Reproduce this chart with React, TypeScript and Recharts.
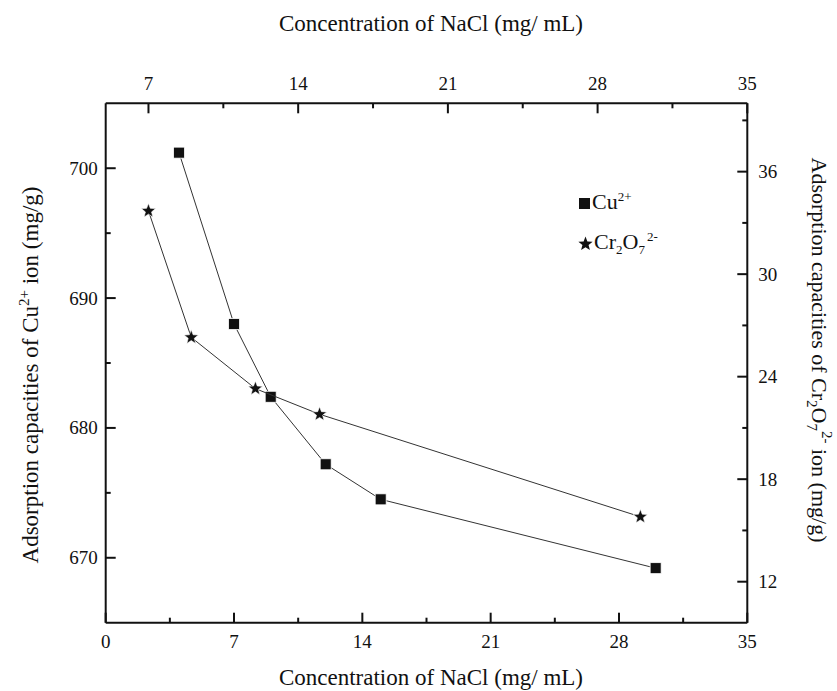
import React from 'react';
import { ScatterChart, Scatter, XAxis, YAxis, Legend } from 'recharts';

// Cu2+ series: bottom axis (NaCl, mg/mL) vs left axis (mg/g)
const cuNacl = [4, 7, 9, 12, 15, 30];
const cuCapacity = [701.2, 688.0, 682.4, 677.2, 674.5, 669.2];

// Cr2O7 2- series: top axis (NaCl, mg/mL) vs right axis (mg/g)
const crNacl = [7, 9, 12, 15, 30];
const crCapacity = [33.7, 26.3, 23.3, 21.8, 15.8];

const bottomMajor = [0, 7, 14, 21, 28, 35];
const bottomMinor = [3.5, 10.5, 17.5, 24.5, 31.5];
const topMajor = [7, 14, 21, 28, 35];
const topMinor = [10.5, 17.5, 24.5, 31.5];
const leftMajor = [670, 680, 690, 700];
const leftMinor = [675, 685, 695];
const rightMajor = [12, 18, 24, 30, 36];
const rightMinor = [15, 21, 27, 33, 39];

const cuData = cuNacl.map((x, i) => ({ x, y: cuCapacity[i] }));
const crData = crNacl.map((x, i) => ({ x, y: crCapacity[i] }));

const FONT = "'Liberation Serif', 'Times New Roman', 'DejaVu Serif', serif";
const TICK_FONT = 19;
const TITLE_FONT = 23;

type Side = 'top' | 'bottom' | 'left' | 'right';

const makeTick = (side: Side, majors: number[]) => (props: any) => {
  const { x, y, payload } = props;
  const v = payload.value;
  const major = majors.includes(v);
  const len = major ? 10 : 5;
  let line: [number, number, number, number];
  let label: React.ReactNode = null;
  if (side === 'bottom') {
    line = [x, y, x, y - len];
    if (major) label = <text x={x} y={y + 25} textAnchor="middle">{v}</text>;
  } else if (side === 'top') {
    line = [x, y, x, y + len];
    if (major) label = <text x={x} y={y - 13} textAnchor="middle">{v}</text>;
  } else if (side === 'left') {
    line = [x, y, x + len, y];
    if (major) label = <text x={x - 8} y={y + 6.5} textAnchor="end">{v}</text>;
  } else {
    line = [x, y, x - len, y];
    if (major) label = <text x={x + 11} y={y + 6.5} textAnchor="start">{v}</text>;
  }
  return (
    <g style={{ fontFamily: FONT, fontSize: TICK_FONT }} fill="#111">
      <line x1={line[0]} y1={line[1]} x2={line[2]} y2={line[3]} stroke="#111" strokeWidth={2} />
      {label}
    </g>
  );
};

const starPath = (cx: number, cy: number, ro: number, ri: number) => {
  const pts: string[] = [];
  for (let i = 0; i < 10; i++) {
    const r = i % 2 === 0 ? ro : ri;
    const a = -Math.PI / 2 + (i * Math.PI) / 5;
    pts.push(`${cx + r * Math.cos(a)},${cy + r * Math.sin(a)}`);
  }
  return pts.join(' ');
};

const SquareShape = (props: any) => {
  const { cx, cy } = props;
  return <rect x={cx - 5.5} y={cy - 5.5} width={11} height={11} fill="#111" stroke="#fff" strokeWidth={0.8} />;
};

const StarShape = (props: any) => {
  const { cx, cy } = props;
  return <polygon points={starPath(cx, cy, 7.5, 3.2)} fill="#111" stroke="#fff" strokeWidth={0.6} />;
};

const supStyle: React.CSSProperties = { fontSize: 13, verticalAlign: 'baseline', position: 'relative', top: -8 };
const subStyle: React.CSSProperties = { fontSize: 13, verticalAlign: 'baseline', position: 'relative', top: 5 };

const LegendBox = () => (
  <div style={{ fontFamily: FONT, fontSize: 22, color: '#111' }}>
    <div style={{ height: 40, lineHeight: '40px', display: 'flex', alignItems: 'center' }}>
      <svg width={13} height={13} style={{ marginRight: 1 }}>
        <rect x={1} y={1} width={11} height={11} fill="#111" />
      </svg>
      <span>
        Cu<sup style={supStyle}>2+</sup>
      </span>
    </div>
    <div style={{ height: 40, lineHeight: '40px', display: 'flex', alignItems: 'center' }}>
      <svg width={15} height={15} style={{ marginRight: 1 }}>
        <polygon points={starPath(7.5, 8, 7.5, 3.2)} fill="#111" />
      </svg>
      <span>
        Cr<sub style={subStyle}>2</sub>O<sub style={subStyle}>7</sub>
        <sup style={{ ...supStyle, marginLeft: 2 }}>2-</sup>
      </span>
    </div>
  </div>
);

export default function App() {
  const axisLine = { stroke: '#111', strokeWidth: 2 };
  return (
    <div style={{ position: 'absolute', left: 0, top: 0, width: 837, height: 691, background: '#fff' }}>
      <ScatterChart width={837} height={691} margin={{ top: 63.3, right: 29.7, bottom: 28.3, left: 45.7 }}>
        <XAxis
          xAxisId="bottom"
          dataKey="x"
          type="number"
          orientation="bottom"
          domain={[0, 35]}
          ticks={[...bottomMajor, ...bottomMinor]}
          height={40}
          axisLine={axisLine}
          tickLine={false}
          tickSize={0}
          tickMargin={0}
          interval={0}
          tick={makeTick('bottom', bottomMajor)}
        />
        <XAxis
          xAxisId="top"
          dataKey="x"
          type="number"
          orientation="top"
          domain={[5, 35]}
          ticks={[...topMajor, ...topMinor]}
          height={40}
          axisLine={axisLine}
          tickLine={false}
          tickSize={0}
          tickMargin={0}
          interval={0}
          tick={makeTick('top', topMajor)}
        />
        <YAxis
          yAxisId="left"
          dataKey="y"
          type="number"
          orientation="left"
          domain={[665, 705]}
          ticks={[...leftMajor, ...leftMinor]}
          width={60}
          axisLine={axisLine}
          tickLine={false}
          tickSize={0}
          tickMargin={0}
          interval={0}
          tick={makeTick('left', leftMajor)}
        />
        <YAxis
          yAxisId="right"
          dataKey="y"
          type="number"
          orientation="right"
          domain={[9.6, 40]}
          ticks={[...rightMajor, ...rightMinor]}
          width={60}
          axisLine={axisLine}
          tickLine={false}
          tickSize={0}
          tickMargin={0}
          interval={0}
          tick={makeTick('right', rightMajor)}
        />
        <Legend
          layout="vertical"
          align="center"
          verticalAlign="middle"
          content={() => <LegendBox />}
          wrapperStyle={{ left: 578, top: 183, width: 120 }}
        />
        <Scatter
          name="Cu2+"
          data={cuData}
          xAxisId="bottom"
          yAxisId="left"
          line={{ stroke: '#333', strokeWidth: 1 }}
          shape={SquareShape}
          isAnimationActive={false}
        />
        <Scatter
          name="Cr2O72-"
          data={crData}
          xAxisId="top"
          yAxisId="right"
          line={{ stroke: '#333', strokeWidth: 1 }}
          shape={StarShape}
          isAnimationActive={false}
        />
      </ScatterChart>
      <svg
        width={837}
        height={691}
        style={{ position: 'absolute', left: 0, top: 0, pointerEvents: 'none', fontFamily: FONT }}
        fill="#111"
      >
        <text x={431} y={31} fontSize={TITLE_FONT} textAnchor="middle">
          Concentration of NaCl (mg/ mL)
        </text>
        <text x={431} y={685} fontSize={TITLE_FONT} textAnchor="middle">
          Concentration of NaCl (mg/ mL)
        </text>
        <text transform="translate(38,375) rotate(-90)" fontSize={TITLE_FONT} textAnchor="middle">
          Adsorption capacities of Cu
          <tspan fontSize={15} dy={-9}>2+</tspan>
          <tspan dy={9}> ion (mg/g)</tspan>
        </text>
        <text transform="translate(812,350) rotate(90)" fontSize={22} textAnchor="middle">
          Adsorption capacities of Cr
          <tspan fontSize={15} dy={5}>2</tspan>
          <tspan dy={-5}>O</tspan>
          <tspan fontSize={15} dy={5}>7</tspan>
          <tspan fontSize={15} dy={-15}>2-</tspan>
          <tspan dy={10}> ion (mg/g)</tspan>
        </text>
      </svg>
    </div>
  );
}
